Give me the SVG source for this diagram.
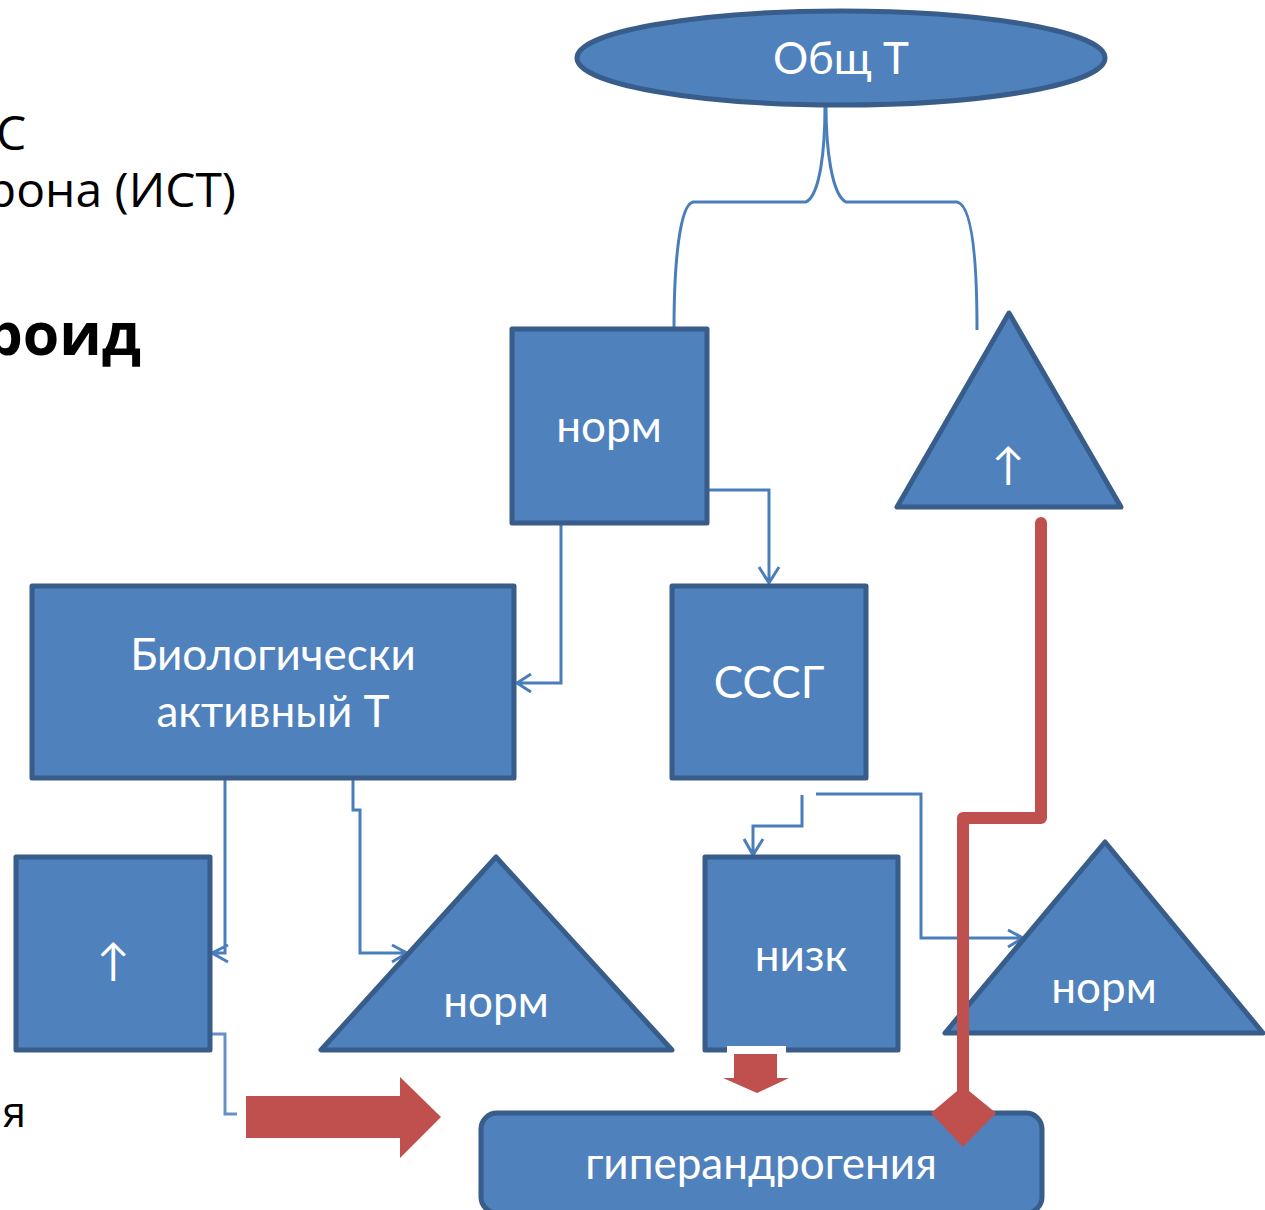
<svg xmlns="http://www.w3.org/2000/svg" width="1265" height="1210" viewBox="0 0 1265 1210">
<defs>
<style>
.n{fill:#4F81BD;stroke:#385D8A;stroke-width:5;stroke-linejoin:round}
.t{fill:#fff;font-family:Lato,"Open Sans",sans-serif;font-size:44px;text-anchor:middle}
.b{fill:#000;font-family:"Open Sans","Noto Sans",sans-serif;font-size:48px}
.c{fill:none;stroke:#4A7EBB;stroke-width:3}
.r{fill:#C0504D}
</style>
</defs>
<rect width="1265" height="1210" fill="#fff"/>
<g id="left-text">
<text class="b" x="-4" y="150">С</text>
<text class="b" x="236" y="207" text-anchor="end">рона (ИСТ)</text>
<text class="b" x="141" y="355" text-anchor="end" style="font-weight:bold;font-size:59px">роид</text>
<text class="b" x="26" y="1127" text-anchor="end" style="font-size:42px">я</text>
</g>
<g id="connectors">
<path class="c" d="M825 106 C825 150 820 195 806 202 L693 202 C680 205 674 260 674 330"/>
<path class="c" d="M826 106 C826 150 832 195 846 202 L957 202 C972 205 977 260 977 330"/>
<path class="c" d="M705 393 L705 490 L769 490 L769 583 M759 567 L769 583 L779 567"/>
<path class="c" d="M561 523 L561 683 L517 683 M531 674 L517 683 L531 692"/>
<path class="c" d="M225 778 L225 953 L212 953 M228 945 L212 953 L228 962"/>
<path class="c" d="M353 778 L353 810 L360 810 L360 953 L407 953 M392 945 L407 953 L392 962"/>
<path class="c" d="M237 1114 L225 1114 L225 1034 L70 1034 M84 1026 L70 1034 L84 1043" stroke-opacity="0.85"/>
<path class="c" d="M802 795 L802 826 L753 826 L753 855 M744 839 L753 855 L763 839"/>
<path class="c" d="M816 794 L921 794 L921 938 L1023 938 M1008 930 L1023 938 L1008 947"/>
</g>
<g id="obsh-t">
<ellipse class="n" cx="841" cy="58" rx="264" ry="47"/>
<text class="t" x="841" y="74">Общ Т</text>
</g>
<g id="norm-top">
<rect class="n" x="512" y="329" width="195" height="194"/>
<text class="t" x="609" y="442">норм</text>
</g>
<g id="up-triangle-top">
<polygon class="n" points="1009,313 897,507 1121,507"/>
<text class="t" x="1008" y="480">↑</text>
</g>
<g id="bio-t">
<rect class="n" x="32" y="586" width="482" height="192"/>
<text class="t" x="273" y="670">Биологически</text>
<text class="t" x="273" y="727">активный Т</text>
</g>
<g id="sssg">
<rect class="n" x="672" y="586" width="194" height="192"/>
<text class="t" x="769" y="698">СССГ</text>
</g>
<g id="up-square">
<rect class="n" x="16" y="857" width="194" height="193"/>
<text class="t" x="113" y="976">↑</text>
</g>
<g id="norm-triangle-left">
<polygon class="n" points="496,857 321,1050 672,1050"/>
<text class="t" x="496" y="1017">норм</text>
</g>
<g id="nizk">
<rect class="n" x="705" y="857" width="193" height="193"/>
<text class="t" x="801" y="971">низк</text>
</g>
<g id="norm-triangle-right">
<polygon class="n" points="1105,842 945,1033 1263,1033"/>
<text class="t" x="1104" y="1003">норм</text>
</g>
<g id="red-arrows">
<polygon class="r" points="246,1096 400,1096 400,1077 441,1117 400,1158 400,1138 246,1138"/>
<rect x="727" y="1046" width="59" height="8" fill="#fff"/>
<polygon class="r" points="734,1054 777,1054 777,1078 789,1078 757,1093 723,1078 734,1078"/>
</g>
<g id="hyperandrogenia">
<rect class="n" x="481" y="1113" width="561" height="100" rx="16"/>
<text class="t" x="761" y="1179">гиперандрогения</text>
</g>
<g id="red-line">
<path d="M1041 523 L1041 818 L963 818 L963 1100" fill="none" stroke="#C0504D" stroke-width="12" stroke-linecap="round" stroke-linejoin="round"/>
<polygon class="r" points="963,1086 996,1113 963,1147 931,1113"/>
</g>
</svg>
